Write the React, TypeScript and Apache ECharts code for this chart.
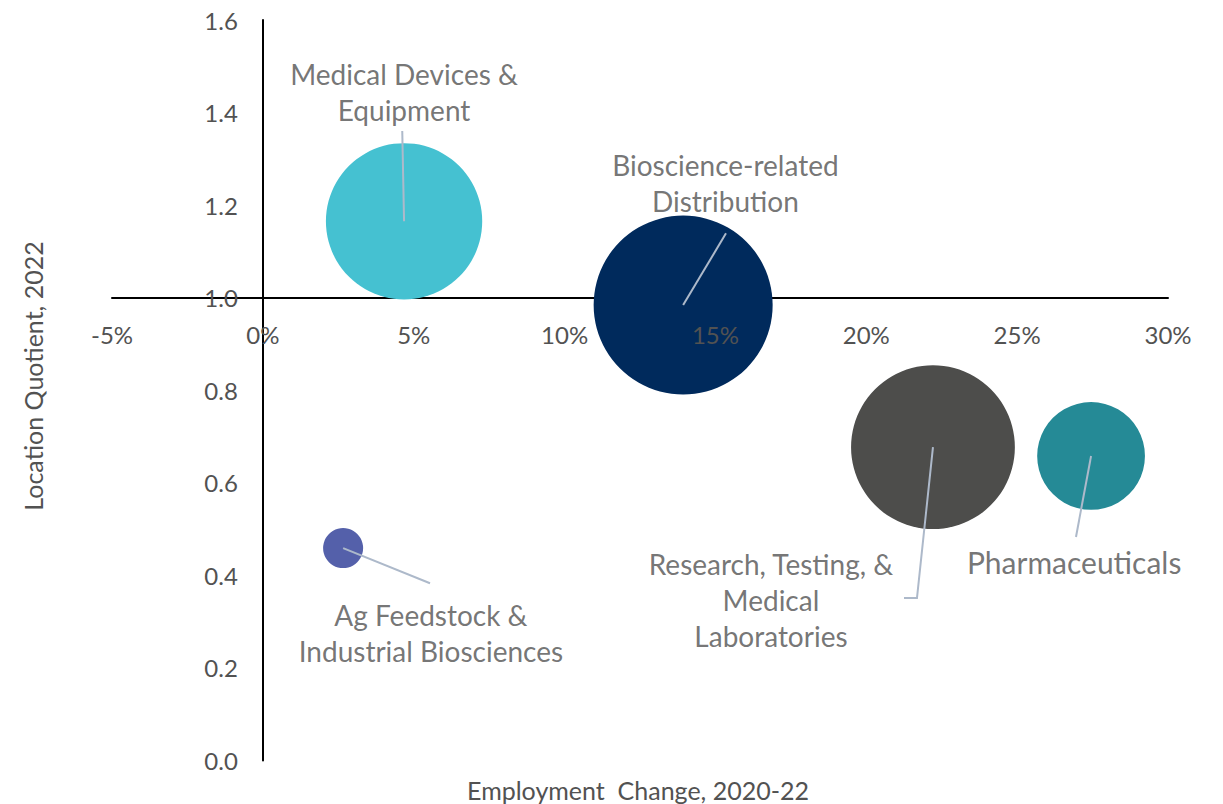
import React, { useEffect, useRef } from "react";
import * as echarts from "echarts";

// ---- Data ----
const categories = [
  "Medical Devices &\nEquipment",
  "Bioscience-related\nDistribution",
  "Research, Testing, &\nMedical\nLaboratories",
  "Pharmaceuticals",
  "Ag Feedstock &\nIndustrial Biosciences",
];
// Employment change 2020-22, %
const employmentChange = [4.68, 13.93, 22.21, 27.45, 2.66];
// Location quotient 2022
const locationQuotient = [1.165, 0.984, 0.677, 0.658, 0.459];
// Relative employment (bubble size)
const employment = [6100, 8000, 6700, 2900, 400];
const colors = ["#45C1D1", "#002A5C", "#4D4D4B", "#258A96", "#5460AA"];

// Label anchors (data units)
const labelX = [4.68, 15.33, 16.84, 26.89, 5.57];
const labelY = [1.444, 1.247, 0.347, 0.429, 0.276];
const labelSize = [28, 28, 28, 30, 28];
// Leader-line end points (data units), starting from the bubble centre
const leaderEnds: number[][][] = [
  [[4.62, 1.36]],
  [[15.35, 1.139]],
  [[21.68, 0.351], [21.25, 0.351]],
  [[26.95, 0.483]],
  [[5.54, 0.383]],
];

const X_MIN = -5, X_MAX = 30, X_STEP = 5;
const Y_MIN = 0, Y_MAX = 1.6, Y_STEP = 0.2;
const X_CROSS_Y = 1.0; // x axis crosses at LQ = 1.0

const FONT = "Lato, 'Open Sans', sans-serif";
const TXT = "#525252";

export default function App() {
  const ref = useRef<HTMLDivElement>(null);
  useEffect(() => {
    if (!ref.current) return;
    const chart = echarts.init(ref.current, undefined, { renderer: "svg" });
    const grid = { left: 112, right: 55, top: 20, bottom: 43.5 };
    const plotH = 804 - grid.top - grid.bottom;
    const plotW = 1223 - grid.left - grid.right;
    const xOffset = -((X_CROSS_Y - Y_MIN) / (Y_MAX - Y_MIN)) * plotH;
    const yOffset = -((0 - X_MIN) / (X_MAX - X_MIN)) * plotW;
    const maxEmp = Math.max(...employment);

    const xBase = {
      type: "value",
      min: X_MIN,
      max: X_MAX,
      interval: X_STEP,
      position: "bottom",
      offset: xOffset,
      splitLine: { show: false },
      axisTick: { show: false },
    };

    chart.setOption({
      animation: false,
      grid,
      xAxis: [
        {
          ...xBase,
          z: 0,
          axisLine: { show: true, onZero: false, lineStyle: { color: "#000", width: 2 } },
          axisLabel: { show: false },
        },
        {
          ...xBase,
          z: 10,
          axisLine: { show: false, onZero: false },
          axisLabel: {
            show: true,
            margin: 25,
            color: TXT,
            fontFamily: FONT,
            fontSize: 24,
            formatter: (v: number) => `${v}%`,
          },
        },
      ],
      yAxis: {
        type: "value",
        min: Y_MIN,
        max: Y_MAX,
        interval: Y_STEP,
        position: "left",
        offset: yOffset,
        splitLine: { show: false },
        axisTick: { show: false },
        axisLine: { show: true, onZero: false, lineStyle: { color: "#000", width: 2 } },
        axisLabel: {
          margin: 25,
          color: TXT,
          fontFamily: FONT,
          fontSize: 24,
          formatter: (v: number) => v.toFixed(1),
        },
      },
      graphic: [
        {
          type: "text",
          x: 638,
          y: 790,
          style: {
            text: "Employment  Change, 2020-22",
            fill: TXT,
            font: `25px ${FONT}`,
            align: "center",
            verticalAlign: "middle",
          },
        },
        {
          type: "text",
          x: 33,
          y: 376,
          rotation: Math.PI / 2,
          style: {
            text: "Location Quotient, 2022",
            fill: TXT,
            font: `25px ${FONT}`,
            align: "center",
            verticalAlign: "middle",
          },
        },
      ],
      series: [
        {
          type: "scatter",
          xAxisIndex: 0,
          z: 2,
          symbol: "circle",
          data: categories.map((c, i) => ({
            name: c,
            value: [employmentChange[i], locationQuotient[i], employment[i]],
            itemStyle: { color: colors[i], opacity: 1 },
          })),
          symbolSize: (val: number[]) => 179 * Math.sqrt(val[2] / maxEmp),
          silent: true,
        },
        {
          type: "lines",
          coordinateSystem: "cartesian2d",
          xAxisIndex: 0,
          polyline: true,
          z: 4,
          silent: true,
          lineStyle: { color: "#ADB9CA", width: 2, opacity: 1 },
          data: categories.map((c, i) => ({
            coords: [[employmentChange[i], locationQuotient[i]], ...leaderEnds[i]],
          })),
        },
        {
          type: "scatter",
          xAxisIndex: 0,
          z: 5,
          symbolSize: 1,
          itemStyle: { color: "rgba(0,0,0,0)" },
          silent: true,
          data: categories.map((c, i) => ({
            name: c,
            value: [labelX[i], labelY[i]],
            label: { fontSize: labelSize[i] },
          })),
          label: {
            show: true,
            position: "inside",
            formatter: (p: any) => p.name,
            color: TXT,
            fontFamily: FONT,
            fontSize: 28,
            lineHeight: 36,
            align: "center",
            verticalAlign: "middle",
          },
        },
      ],
    });
    return () => chart.dispose();
  }, []);
  return (
    <div
      ref={ref}
      style={{ position: "absolute", left: 0, top: 0, width: 1223, height: 804, background: "#fff" }}
    />
  );
}
